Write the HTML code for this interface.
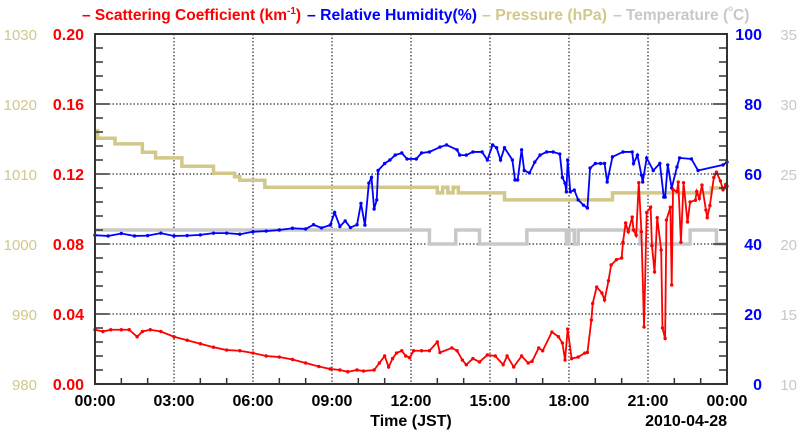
<!DOCTYPE html>
<html><head><meta charset="utf-8">
<style>
html,body{margin:0;padding:0;background:#fff;}
body{width:800px;height:434px;overflow:hidden;}
svg text{font-family:"Liberation Sans",sans-serif;}
</style></head>
<body>
<svg id="chart" width="800" height="434" viewBox="0 0 800 434" xmlns="http://www.w3.org/2000/svg">
<g id="title" font-size="15.5" font-weight="bold">
<text x="82" y="20" fill="#ff0000">– Scattering Coefficient (km<tspan font-size="10" dy="-6">-1</tspan><tspan dy="6">)</tspan></text>
<text x="307" y="20" fill="#0000ff" textLength="170" lengthAdjust="spacingAndGlyphs">– Relative Humidity(%)</text>
<text x="482" y="20" fill="#d2c88a" textLength="125" lengthAdjust="spacingAndGlyphs">– Pressure (hPa)</text>
<text x="613" y="20" fill="#c8c8c8">– Temperature (<tspan font-size="8" dy="-9">o</tspan><tspan dy="9">C)</tspan></text>
</g>
<g id="grid"></g>
<g id="series"></g>
<g id="axes"></g>
<text x="411" y="426" text-anchor="middle" font-size="16" font-weight="bold">Time (JST)</text>
<text x="727" y="426" text-anchor="end" font-size="16" font-weight="bold">2010-04-28</text>
</svg>
<script>
// ---- data ----
const xTickLabels = ["00:00","03:00","06:00","09:00","12:00","15:00","18:00","21:00","00:00"];
const scatTicks = ["0.00","0.04","0.08","0.12","0.16","0.20"];
const presTicks = ["980","990","1000","1010","1020","1030"];
const rhTicks = ["0","20","40","60","80","100"];
const tempTicks = ["10","15","20","25","30","35"];

const scatT = [0,0.3,0.6,1.0,1.3,1.6,1.8,2.1,2.5,3.0,3.5,4.0,4.5,5.0,5.5,6.0,6.5,7.0,7.5,8.0,8.5,8.93,9.3,9.6,9.95,10.2,10.6,10.8,11.0,11.15,11.3,11.45,11.65,11.8,11.95,12.1,12.4,12.7,13.0,13.1,13.55,13.75,13.95,14.1,14.35,14.6,14.9,15.2,15.5,15.65,15.9,16.2,16.45,16.6,16.85,17.0,17.35,17.6,17.75,17.85,17.95,18.1,18.35,18.6,18.7,18.85,18.9,19.05,19.25,19.35,19.5,19.6,19.8,20.0,20.05,20.15,20.25,20.4,20.45,20.55,20.65,20.75,20.85,20.95,21.1,21.15,21.25,21.35,21.5,21.55,21.65,21.7,21.85,21.9,21.95,22.1,22.15,22.25,22.35,22.5,22.6,22.8,22.85,22.95,23.05,23.2,23.25,23.35,23.5,23.6,23.75,23.85,23.95,24.0];
const scatV = [0.031,0.030,0.031,0.031,0.031,0.027,0.030,0.031,0.030,0.027,0.025,0.023,0.021,0.0194,0.019,0.0177,0.016,0.0154,0.014,0.012,0.010,0.0086,0.008,0.007,0.008,0.0074,0.008,0.012,0.016,0.0097,0.0145,0.0177,0.019,0.016,0.015,0.019,0.019,0.019,0.024,0.018,0.0206,0.019,0.0137,0.011,0.0145,0.0126,0.0166,0.016,0.011,0.016,0.0097,0.016,0.012,0.013,0.0206,0.019,0.0297,0.027,0.0234,0.0137,0.0314,0.0145,0.0154,0.0177,0.018,0.0366,0.046,0.0554,0.052,0.048,0.059,0.068,0.071,0.072,0.081,0.092,0.087,0.0954,0.088,0.085,0.115,0.087,0.0326,0.098,0.101,0.079,0.064,0.095,0.0766,0.032,0.026,0.0937,0.101,0.0566,0.111,0.110,0.1154,0.081,0.115,0.0926,0.104,0.105,0.11,0.106,0.1137,0.0994,0.095,0.102,0.118,0.121,0.116,0.111,0.114,0.113];

const rhT = [0,0.5,1.0,1.5,2.0,2.5,3.0,3.5,4.0,4.5,5.0,5.5,6.0,6.5,7.0,7.5,8.0,8.3,8.6,8.93,9.1,9.3,9.5,9.7,9.95,10.1,10.25,10.4,10.5,10.6,10.7,10.75,11.0,11.2,11.4,11.65,11.85,12.2,12.4,12.7,13.1,13.35,13.75,13.85,14.1,14.35,14.7,14.9,15.1,15.25,15.4,15.55,15.85,15.95,16.05,16.2,16.3,16.5,16.7,16.9,17.15,17.4,17.65,17.75,17.85,17.9,17.95,18.05,18.2,18.35,18.55,18.7,18.8,19.0,19.2,19.35,19.45,19.65,20.05,20.4,20.45,20.6,20.75,20.8,20.95,21.2,21.45,21.6,21.65,21.75,21.9,22.1,22.2,22.65,22.9,23.85,24.0];
const rhV = [42.5,42.3,43.0,42.3,42.4,43.1,42.3,42.4,42.6,43.1,43.1,42.8,43.5,43.7,44.0,44.5,44.3,45.5,44.6,45.4,49,45,46.6,44.7,45.5,51.6,45.4,57.4,59,50,52.6,61,63,64,65.4,66,64.3,64.3,66,66.3,67.7,68.3,66.9,65.4,65.4,66.3,66.3,64,68.3,67.5,64,67.5,64,58.3,58.3,66.9,61,60.3,63.4,65.4,66.3,66.3,65.7,59,57.4,54.9,64,54.9,55.4,52.6,51.1,50.3,61.7,63,63,63,57.7,64.9,66.3,66.3,63,65.4,59.7,57.7,64.6,61,63,53.4,53.4,62.6,56,62,64.6,64.3,61,62.6,63.4];

const presT = [0,0.1,0.76,1.8,2.3,3.3,4.5,5.3,5.5,6.45,12.7,13.0,13.2,13.4,13.6,13.8,15.55,19.65,23.4];
const presV = [1016.2,1015.1,1014.3,1013.1,1012.3,1011.1,1010.1,1009.6,1009.1,1008.1,1008.1,1007.3,1008.1,1007.3,1008.1,1007.3,1006.3,1007.3,1008.0];

const tempT = [0,12.7,13.7,14.6,16.4,17.9,18.0,18.2,18.35,20.7,22.6,23.6];
const tempV = [21,20,21,20,21,20,21,20,21,20,21,20];

// ---- scales ----
const X0=95,X1=727,Y0=384,Y1=34;
const xs = h => X0 + (X1-X0)*h/24;
const yScat = v => Y0 - (Y0-Y1)*v/0.20;
const yPres = p => Y0 - (Y0-Y1)*(p-980)/50;
const yRh = r => Y0 - (Y0-Y1)*r/100;
const yTemp = t => Y0 - (Y0-Y1)*(t-10)/25;

const NS="http://www.w3.org/2000/svg";
function mk(tag, attrs, parent){const e=document.createElementNS(NS,tag);for(const k in attrs)e.setAttribute(k,attrs[k]);parent.appendChild(e);return e;}
const grid=document.getElementById('grid'), series=document.getElementById('series'), axes=document.getElementById('axes');

// grid
for(let i=1;i<8;i++){const g=mk('line',{x1:xs(i*3),x2:xs(i*3),y1:Y1,y2:Y0,stroke:'#000','stroke-width':1,'stroke-dasharray':'1.5,2'},grid);

}
for(let i=1;i<5;i++){const g=mk('line',{x1:X0,x2:X1,y1:yScat(i*0.04),y2:yScat(i*0.04),stroke:'#000','stroke-width':1,'stroke-dasharray':'1.5,2'},grid);

}

// step series
function stepPath(T,V,ys){let d='';for(let i=0;i<T.length;i++){const x=xs(T[i]),y=ys(V[i]);if(i===0)d+='M'+x+','+y;else{d+='L'+x+','+ys(V[i-1])+'L'+x+','+y;}}d+='L'+xs(24)+','+ys(V[V.length-1]);return d;}
const tp=mk('path',{d:stepPath(tempT,tempV,yTemp),fill:'none',stroke:'#c8c8c8','stroke-width':3.5},series);


const pp=mk('path',{d:stepPath(presT,presV,yPres),fill:'none',stroke:'#d2c88a','stroke-width':3.5},series);



function linePts(T,V,ys,color,name){
  const pts=T.map((t,i)=>xs(t)+','+ys(V[i])).join(' ');
  const l=mk('polyline',{points:pts,fill:'none',stroke:color,'stroke-width':1.8},series);
  
  
  T.forEach((t,i)=>{const c=mk('circle',{cx:xs(t),cy:ys(V[i]),r:1.7,fill:color},series);
  
  });
}
linePts(rhT,rhV,yRh,'#0000ff','humidity');
linePts(scatT,scatV,yScat,'#ff0000','scattering');

// frame
const fr=mk('rect',{x:X0,y:Y1,width:X1-X0,height:Y0-Y1,fill:'none',stroke:'#333','stroke-width':2},axes);


// ticks
for(let h=0;h<=24;h++){const len=h%3===0?0:6;if(len){const t=mk('line',{x1:xs(h),x2:xs(h),y1:Y0,y2:Y0-len,stroke:'#333','stroke-width':1.5},axes);

}}
for(let i=0;i<=25;i++){const y=Y0-(Y0-Y1)*i/25;const len=i%5===0?14:8;
  const a=mk('line',{x1:X0,x2:X0+len,y1:y,y2:y,stroke:'#333','stroke-width':1.5},axes);
  
  
  const b=mk('line',{x1:X1,x2:X1-len,y1:y,y2:y,stroke:'#333','stroke-width':1.5},axes);
  
  }
// labels
xTickLabels.forEach((s,i)=>{const t=mk('text',{x:xs(i*3),y:406,'text-anchor':'middle','font-size':16,'font-weight':'bold',fill:'#000'},axes);t.textContent=s;

});
scatTicks.forEach((s,i)=>{const t=mk('text',{x:84,y:yScat(i*0.04)+6,'text-anchor':'end','font-size':16,'font-weight':'bold',fill:'#ff0000'},axes);t.textContent=s;

});
presTicks.forEach((s,i)=>{const t=mk('text',{x:37,y:yScat(i*0.04)+6,'text-anchor':'end','font-size':15,fill:'#d2c88a'},axes);t.textContent=s;

});
rhTicks.forEach((s,i)=>{const t=mk('text',{x:762,y:yScat(i*0.04)+6,'text-anchor':'end','font-size':16,'font-weight':'bold',fill:'#0000ff'},axes);t.textContent=s;

});
tempTicks.forEach((s,i)=>{const t=mk('text',{x:797,y:yScat(i*0.04)+6,'text-anchor':'end','font-size':15,fill:'#c8c8c8'},axes);t.textContent=s;

});
</script>
</body></html>
